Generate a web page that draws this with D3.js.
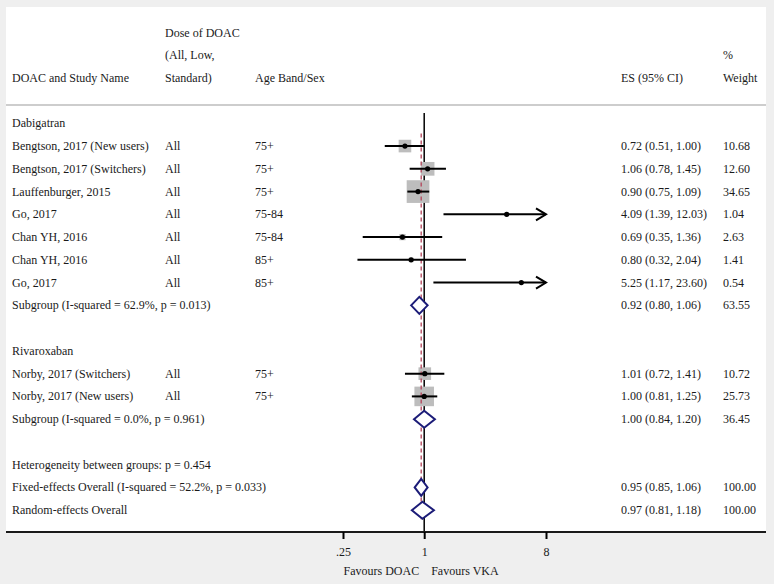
<!DOCTYPE html>
<html>
<head>
<meta charset="utf-8">
<script src="https://cdn.jsdelivr.net/npm/d3@7"></script>
<style>
  html, body { margin: 0; padding: 0; background: #efefef; }
  svg { display: block; }
  text { font-family: "Liberation Serif", "Times New Roman", serif; font-size: 12px; fill: #1a1a1a; }
</style>
</head>
<body>
<svg id="chart" width="774" height="584"></svg>
<script>
// ---------------- DATA ----------------
const headerCols = ["DOAC and Study Name", "Dose of DOAC", "Age Band/Sex", "ES (95% CI)", "% Weight"];
const doseHeaderLines = ["Dose of DOAC", "(All, Low,", "Standard)"];
const weightHeaderLines = ["%", "Weight"];

// row kinds: group, study, subgroup, blank, note, overall
const rowLabels = [
  "Dabigatran",
  "Bengtson, 2017 (New users)",
  "Bengtson, 2017 (Switchers)",
  "Lauffenburger, 2015",
  "Go, 2017",
  "Chan YH, 2016",
  "Chan YH, 2016",
  "Go, 2017",
  "Subgroup (I-squared = 62.9%, p = 0.013)",
  "",
  "Rivaroxaban",
  "Norby, 2017 (Switchers)",
  "Norby, 2017 (New users)",
  "Subgroup (I-squared = 0.0%, p = 0.961)",
  "",
  "Heterogeneity between groups: p = 0.454",
  "Fixed-effects Overall (I-squared = 52.2%, p = 0.033)",
  "Random-effects Overall"
];
const rowKinds = ["group","study","study","study","study","study","study","study","subgroup","blank",
                  "group","study","study","subgroup","blank","note","overall","overall"];
const doses = ["","All","All","All","All","All","All","All","","","","All","All","","","","",""];
const ages  = ["","75+","75+","75+","75-84","75-84","85+","85+","","","","75+","75+","","","","",""];
const es    = [null,0.72,1.06,0.90,4.09,0.69,0.80,5.25,0.92,null,null,1.01,1.00,1.00,null,null,0.95,0.97];
const ciLow = [null,0.51,0.78,0.75,1.39,0.35,0.32,1.17,0.80,null,null,0.72,0.81,0.84,null,null,0.85,0.81];
const ciHigh= [null,1.00,1.45,1.09,12.03,1.36,2.04,23.60,1.06,null,null,1.41,1.25,1.20,null,null,1.06,1.18];
const weights=[null,10.68,12.60,34.65,1.04,2.63,1.41,0.54,63.55,null,null,10.72,25.73,36.45,null,null,100.00,100.00];

const tickValues = [0.25, 1, 8];
const tickLabels = [".25", "1", "8"];
const axisLabels = ["Favours DOAC", "Favours VKA"];
const overallES = 0.95; // fixed-effects overall, dashed line

// ---------------- LAYOUT ----------------
const svg = d3.select("#chart");
const W = 774, H = 584;
const panel = {x0: 6, x1: 766, y0: 7, y1: 532};
const col = {name: 12, dose: 165, age: 255, es: 621, weight: 723};

const fmt2 = d3.format(".2f");

// panel
svg.append("rect").attr("x", 0).attr("y", 0).attr("width", W).attr("height", H).attr("fill", "#efefef");
svg.append("rect").attr("x", panel.x0).attr("y", panel.y0)
   .attr("width", panel.x1 - panel.x0).attr("height", panel.y1 - panel.y0).attr("fill", "#ffffff");

// scales
const x = d3.scaleLog().base(2).domain([0.25, 8]).range([343, 546]);
const y = d3.scaleLinear().domain([0, 17]).range([123.3, 510.2]);
const headY = d3.scaleLinear().domain([0, 2]).range([32.5, 77.5]);
const boxSide = d3.scaleSqrt().domain([0, 34.65]).range([0, 22.7]);

// header
const hdr = svg.append("g");
hdr.append("text").attr("x", col.name).attr("y", headY(2) + 4).text(headerCols[0]);
doseHeaderLines.forEach((t, i) => hdr.append("text").attr("x", col.dose).attr("y", headY(i) + 4).text(t));
hdr.append("text").attr("x", col.age).attr("y", headY(2) + 4).text(headerCols[2]);
hdr.append("text").attr("x", col.es).attr("y", headY(2) + 4).text(headerCols[3]);
weightHeaderLines.forEach((t, i) => hdr.append("text").attr("x", col.weight).attr("y", headY(i + 1) + 4).text(t));
svg.append("line").attr("x1", panel.x0).attr("x2", panel.x1).attr("y1", 105).attr("y2", 105)
   .attr("stroke", "#cdcdcd").attr("stroke-width", 2);

// row texts
const rows = rowLabels.map((label, i) => ({
  i, label, kind: rowKinds[i], dose: doses[i], age: ages[i],
  es: es[i], lo: ciLow[i], hi: ciHigh[i], w: weights[i]
}));

const tg = svg.append("g");
rows.forEach(r => {
  const yy = y(r.i) + 4;
  if (r.label) tg.append("text").attr("x", col.name).attr("y", yy).text(r.label);
  if (r.dose) tg.append("text").attr("x", col.dose).attr("y", yy).text(r.dose);
  if (r.age) tg.append("text").attr("x", col.age).attr("y", yy).text(r.age);
  if (r.es != null) {
    tg.append("text").attr("x", col.es).attr("y", yy)
      .text(`${fmt2(r.es)} (${fmt2(r.lo)}, ${fmt2(r.hi)})`);
    tg.append("text").attr("x", col.weight).attr("y", yy).text(fmt2(r.w));
  }
});

// null line at 1
svg.append("line").attr("x1", x(1)).attr("x2", x(1)).attr("y1", 113).attr("y2", panel.y1)
   .attr("stroke", "#000").attr("stroke-width", 1.5);

const studies = rows.filter(r => r.kind === "study");
const [xmin, xmax] = x.domain();

// boxes
svg.append("g").selectAll("rect").data(studies).join("rect")
  .attr("x", d => x(d.es) - boxSide(d.w) / 2)
  .attr("y", d => y(d.i) - boxSide(d.w) / 2)
  .attr("width", d => boxSide(d.w))
  .attr("height", d => boxSide(d.w))
  .attr("fill", "#bdbdbd");

// overall dashed line
svg.append("line").attr("x1", x(overallES)).attr("x2", x(overallES))
   .attr("y1", y(0.45)).attr("y2", y(17) + 9)
   .attr("stroke", "#b4455a").attr("stroke-width", 1.3).attr("stroke-dasharray", "4,3");

// CI lines
const ci = svg.append("g");
studies.forEach(d => {
  const lo = Math.max(d.lo, xmin), hi = Math.min(d.hi, xmax);
  ci.append("line").attr("x1", x(lo)).attr("x2", x(hi)).attr("y1", y(d.i)).attr("y2", y(d.i))
    .attr("stroke", "#000").attr("stroke-width", 2);
  if (d.hi > xmax) {
    const xe = x(xmax), yc = y(d.i);
    ci.append("path").attr("d", `M${xe - 10},${yc - 6}L${xe},${yc}L${xe - 10},${yc + 6}`)
      .attr("fill", "none").attr("stroke", "#000").attr("stroke-width", 2);
  }
  ci.append("circle").attr("cx", x(d.es)).attr("cy", y(d.i)).attr("r", 2.6).attr("fill", "#000");
});

// diamonds
const pooled = rows.filter(r => r.kind === "subgroup" || r.kind === "overall");
svg.append("g").selectAll("path").data(pooled).join("path")
  .attr("d", d => {
    const yc = y(d.i), h = 8.5;
    return `M${x(d.lo)},${yc}L${x(d.es)},${yc - h}L${x(d.hi)},${yc}L${x(d.es)},${yc + h}Z`;
  })
  .attr("fill", "#fff").attr("stroke", "#1c1c78").attr("stroke-width", 2);

// bottom border line
svg.append("line").attr("x1", panel.x0).attr("x2", panel.x1).attr("y1", panel.y1).attr("y2", panel.y1)
   .attr("stroke", "#1a1a1a").attr("stroke-width", 2);

// axis
const axis = d3.axisBottom(x).tickValues(tickValues)
  .tickFormat((d, i) => tickLabels[i]).tickSize(7).tickPadding(8);
const ax = svg.append("g").attr("transform", `translate(0,${panel.y1})`).call(axis);
ax.select(".domain").remove();
ax.selectAll(".tick line").attr("stroke", "#000").attr("stroke-width", 2);
ax.selectAll(".tick text").attr("font-family", "Liberation Serif, Times New Roman, serif")
  .attr("font-size", 12).attr("fill", "#1a1a1a");

svg.append("text").attr("x", x(1) - 5).attr("y", 575).attr("text-anchor", "end").text(axisLabels[0]);
svg.append("text").attr("x", x(1) + 7).attr("y", 575).attr("text-anchor", "start").text(axisLabels[1]);
</script>
</body>
</html>
